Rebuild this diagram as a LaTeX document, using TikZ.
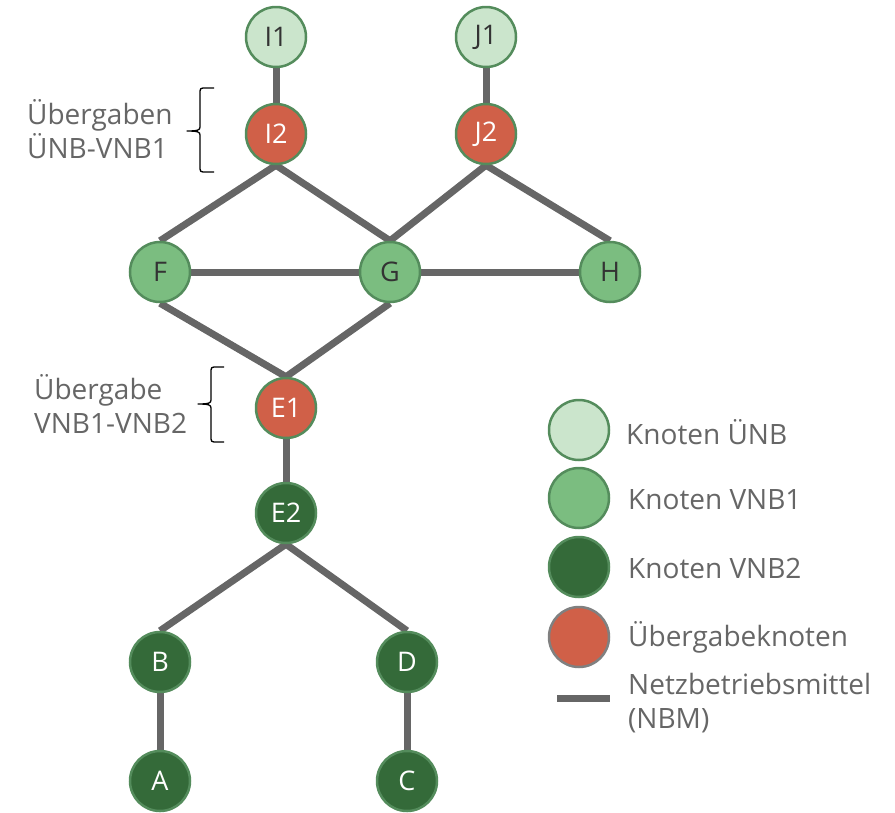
\documentclass[tikz,border=0pt]{standalone}
\usepackage{fontspec}
\setmainfont{Open Sans}
\usetikzlibrary{backgrounds}
\definecolor{uenb}{HTML}{CBE5CC}
\definecolor{vnbone}{HTML}{7BBD80}
\definecolor{vnbtwo}{HTML}{346A39}
\definecolor{handover}{HTML}{D06048}
\definecolor{rim}{HTML}{548C5C}
\definecolor{wire}{HTML}{666666}
\definecolor{labelgrey}{HTML}{666666}
\definecolor{darktext}{HTML}{333333}
\tikzset{
  knot/.style={circle, minimum size=60pt, inner sep=0pt, line width=2.5pt, draw=rim,
    font=\fontsize{27}{27}\selectfont},
  nuenb/.style={knot, fill=uenb, text=darktext},
  nvnbone/.style={knot, fill=vnbone, text=darktext},
  nvnbtwo/.style={knot, fill=vnbtwo, text=white},
  nhand/.style={knot, fill=handover, text=white},
  nbm/.style={line width=7pt, draw=wire},
  caption/.style={text=labelgrey, font=\fontsize{28}{34}\selectfont, align=left, inner sep=0pt},
  curly/.style={draw=black, line width=1.3pt, line join=round}
}
\begin{document}
\begin{tikzpicture}[x=1pt,y=-1pt]
\useasboundingbox (0,0) rectangle (895,812);

% network nodes
\node[nuenb] (I1) at (276,37) {I1};
\node[nhand] (I2) at (276,134) {I2};
\node[nuenb] (J1) at (486,37) {J1};
\node[nhand] (J2) at (486,134) {J2};
\node[nvnbone] (F) at (160,272) {F};
\node[nvnbone] (G) at (390,272) {G};
\node[nvnbone] (H) at (610,272) {H};
\node[nhand] (E1) at (286,408) {E1};
\node[nvnbtwo] (E2) at (286,513) {E2};
\node[nvnbtwo] (B) at (160,662) {B};
\node[nvnbtwo] (D) at (407,662) {D};
\node[nvnbtwo] (A) at (160,781) {A};
\node[nvnbtwo] (C) at (407,781) {C};

% grid equipment, drawn behind the nodes
\begin{pgfonlayer}{background}
  \draw[nbm] (I1.center) -- (I2.center);
  \draw[nbm] (J1.center) -- (J2.center);
  \draw[nbm] (I2.south) -- (F.north);
  \draw[nbm] (I2.south) -- (G.north);
  \draw[nbm] (J2.south) -- (G.north);
  \draw[nbm] (J2.south) -- (H.north);
  \draw[nbm] (F.center) -- (G.center);
  \draw[nbm] (G.center) -- (H.center);
  \draw[nbm] (F.south) -- (E1.north);
  \draw[nbm] (G.south) -- (E1.north);
  \draw[nbm] (E1.center) -- (E2.center);
  \draw[nbm] (E2.south) -- (B.north);
  \draw[nbm] (E2.south) -- (D.north);
  \draw[nbm] (B.center) -- (A.center);
  \draw[nbm] (D.center) -- (C.center);
\end{pgfonlayer}

% legend
\node[nuenb] (L1) at (579,430) {};
\node[nvnbone] (L2) at (579,498) {};
\node[nvnbtwo] (L3) at (579,567) {};
\node[nhand, draw=gray] (L4) at (579,637) {};
\coordinate (W1) at (557,698);
\coordinate (W2) at (610,698);
\draw[nbm] (W1) -- (W2);
\node[caption, anchor=west] (T1) at (626,432) {Knoten ÜNB};
\node[caption, anchor=west] (T2) at (628,500) {Knoten VNB1};
\node[caption, anchor=west] (T3) at (628,568) {Knoten VNB2};
\node[caption, anchor=west] (T4) at (628,637) {Übergabeknoten};
\node[caption, anchor=west] (T5) at (628,703) {Netzbetriebsmittel\\(NBM)};

% handover annotations with their curly braces
\node[caption, anchor=west] (U1) at (27,129) {Übergaben\\ÜNB-VNB1};
\node[caption, anchor=west] (U2) at (34,404) {Übergabe\\VNB1-VNB2};
\draw[curly] (214,88) -- (203,88) .. controls (201,88) and (200,89) .. (200,91)
  -- (200,127) .. controls (200,130) and (198,131) .. (187,131)
  .. controls (198,131) and (200,132) .. (200,135)
  -- (200,169) .. controls (200,171) and (201,172) .. (203,172) -- (214,172);
\draw[curly] (224,367) -- (214,367) .. controls (212,367) and (211,368) .. (211,370)
  -- (211,400) .. controls (211,403) and (209,404) .. (198,404)
  .. controls (209,404) and (211,405) .. (211,408)
  -- (211,439) .. controls (211,441) and (212,442) .. (214,442) -- (224,442);
\end{tikzpicture}
\end{document}
